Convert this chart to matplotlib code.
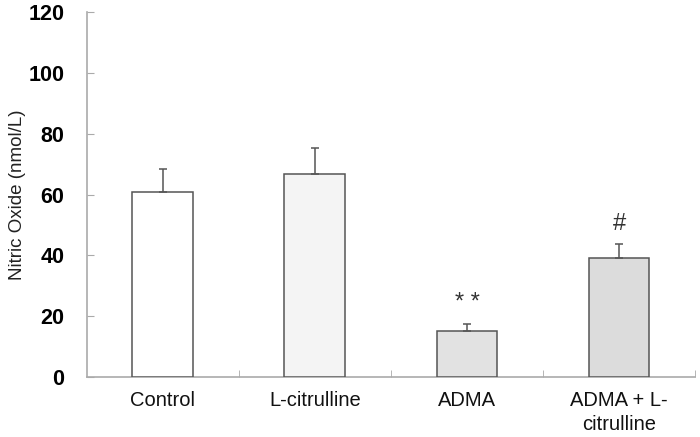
import matplotlib
matplotlib.use('Agg')
import matplotlib.pyplot as plt
import numpy as np

categories = ['Control', 'L-citrulline', 'ADMA', 'ADMA + L-\ncitrulline']
means = [60.9, 66.7, 15.1, 39.0]
sem = [7.5, 8.7, 2.5, 4.8]
marks = ['', '', '* *', '#']
colors = ['#ffffff', '#f4f4f4', '#e2e2e2', '#dcdcdc']
yticks = [0, 20, 40, 60, 80, 100, 120]

plt.rcParams['font.family'] = ['Liberation Sans', 'DejaVu Sans']

fig = plt.figure(figsize=(7, 4.37), dpi=100)
ax = fig.add_axes([0.124, 0.137, 0.869, 0.8355])

x = np.arange(len(categories))
ax.bar(x, means, width=0.4, color=colors, edgecolor='#555555', linewidth=1.1,
       yerr=[np.zeros(len(sem)), sem], capsize=3,
       error_kw=dict(ecolor='#555555', elinewidth=1.1, capthick=1.1), zorder=3)

for xi, m, s, t in zip(x, means, sem, marks):
    if t:
        ax.text(xi, m + s + 3, t, ha='center', va='bottom', fontsize=17,
                color='#333333')

ax.set_xlim(-0.5, len(categories) - 0.5)
ax.set_ylim(0, 120)
ax.set_yticks(yticks)
ax.set_yticklabels([str(v) for v in yticks], fontsize=15.5, fontweight='bold')
ax.set_xticks(x)
ax.set_xticklabels(categories, fontsize=14.5, color='#111111', linespacing=1.35)
ax.tick_params(axis='x', length=0, pad=10)
ax.tick_params(axis='y', direction='in', length=5, color='#aaaaaa', pad=16)
ax.set_xticks(np.arange(len(categories)) + 0.5, minor=True)
ax.tick_params(axis='x', which='minor', direction='in', length=5, color='#aaaaaa')

for side in ['top', 'right']:
    ax.spines[side].set_visible(False)
for side in ['left', 'bottom']:
    ax.spines[side].set_color('#aaaaaa')
    ax.spines[side].set_linewidth(1.2)

ax.set_ylabel('Nitric Oxide (nmol/L)', fontsize=13.5, color='#222222')
ax.yaxis.set_label_coords(-0.1, 0.5)

fig.savefig('out.png', dpi=100)
